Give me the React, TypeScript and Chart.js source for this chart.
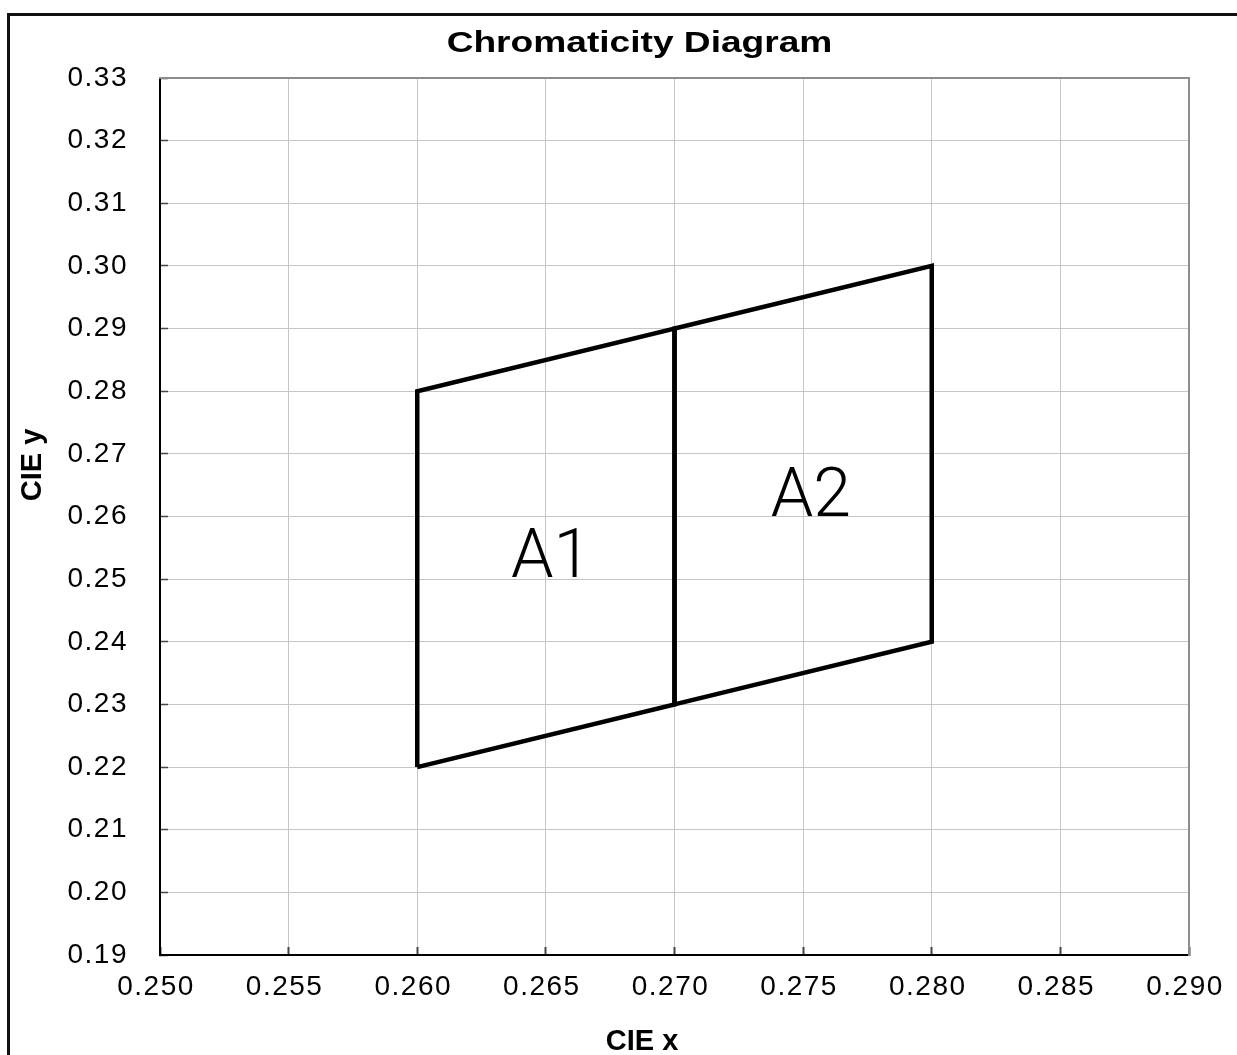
import React, { useEffect, useRef } from 'react';
import { Chart, registerables } from 'chart.js';

Chart.register(...registerables);

// ---- data ----
const xTickValues = [0.25, 0.255, 0.26, 0.265, 0.27, 0.275, 0.28, 0.285, 0.29];
const xTickLabels = ['0.250', '0.255', '0.260', '0.265', '0.270', '0.275', '0.280', '0.285', '0.290'];
const yTickValues = [0.19, 0.2, 0.21, 0.22, 0.23, 0.24, 0.25, 0.26, 0.27, 0.28, 0.29, 0.3, 0.31, 0.32, 0.33];
const yTickLabels = ['0.19', '0.20', '0.21', '0.22', '0.23', '0.24', '0.25', '0.26', '0.27', '0.28', '0.29', '0.30', '0.31', '0.32', '0.33'];

const a1X = [0.26, 0.26, 0.27, 0.27, 0.26];
const a1Y = [0.22, 0.28, 0.29, 0.23, 0.22];
const a2X = [0.27, 0.27, 0.28, 0.28, 0.27];
const a2Y = [0.23, 0.29, 0.3, 0.24, 0.23];

const regionLabels = ['A1', 'A2'];
const regionLabelX = [0.2652, 0.2753];
const regionLabelY = [0.2503, 0.2601];

const chartTitle = 'Chromaticity Diagram';
const xTitle = 'CIE x';
const yTitle = 'CIE y';

const FONT = "'Liberation Sans', Arial, Helvetica, sans-serif";

const toPoints = (xs: number[], ys: number[]) => xs.map((x, i) => ({ x, y: ys[i] }));

const decoPlugin = {
  id: 'deco',
  beforeDraw(chart: any) {
    chart.ctx.letterSpacing = '1.5px';
  },
  afterDatasetsDraw(chart: any) {
    const ctx = chart.ctx;
    const xs = chart.scales.x;
    const ys = chart.scales.y;
    ctx.save();
    ctx.letterSpacing = '0px';
    ctx.fillStyle = '#000';
    ctx.font = "300 68px Roboto, 'Liberation Sans', sans-serif";
    ctx.textAlign = 'center';
    ctx.textBaseline = 'alphabetic';
    regionLabels.forEach((t, i) => {
      ctx.fillText(t, xs.getPixelForValue(regionLabelX[i]), ys.getPixelForValue(regionLabelY[i]));
    });
    ctx.restore();
  },
  afterDraw(chart: any) {
    const ctx = chart.ctx;
    ctx.save();
    ctx.letterSpacing = '0px';
    ctx.fillStyle = '#000';
    ctx.font = `bold 29px ${FONT}`;
    ctx.textAlign = 'center';
    ctx.textBaseline = 'middle';
    ctx.fillText(xTitle, 642, 1042);
    ctx.translate(33, 465);
    ctx.rotate(-Math.PI / 2);
    ctx.fillText(yTitle, 0, 0);
    ctx.restore();
    ctx.letterSpacing = '0px';
  },
};

export default function App() {
  const ref = useRef<HTMLCanvasElement>(null);

  useEffect(() => {
    if (!ref.current) return;
    const chart = new Chart(ref.current, {
      type: 'scatter',
      data: {
        datasets: [
          {
            label: 'A1',
            data: toPoints(a1X, a1Y),
            showLine: true,
            borderColor: '#000',
            borderWidth: 4.5,
            pointRadius: 0,
            fill: false,
            borderJoinStyle: 'miter',
            xAxisID: 'x',
            yAxisID: 'y',
          },
          {
            label: 'A2',
            data: toPoints(a2X, a2Y),
            showLine: true,
            borderColor: '#000',
            borderWidth: 4.5,
            pointRadius: 0,
            fill: false,
            borderJoinStyle: 'miter',
            xAxisID: 'x',
            yAxisID: 'y',
          },
        ],
      },
      options: {
        responsive: false,
        animation: false,
        devicePixelRatio: 1,
        layout: { padding: { left: 42, right: 0, top: 0, bottom: 0 } },
        plugins: {
          legend: { display: false },
          tooltip: { enabled: false },
          title: {
            display: true,
            text: chartTitle,
            color: '#000',
            font: { family: FONT, size: 29, weight: 'bold', lineHeight: 1.2 },
            padding: { top: 26.6, bottom: 16.6 },
          },
        },
        scales: {
          x: {
            type: 'linear',
            position: 'bottom',
            min: xTickValues[0],
            max: xTickValues[xTickValues.length - 1],
            afterBuildTicks: (s: any) => {
              s.ticks = xTickValues.map((v) => ({ value: v }));
            },
            afterFit: (s: any) => {
              s.height = 100;
              s.paddingLeft = 0;
              s.paddingRight = 0;
            },
            ticks: {
              autoSkip: false,
              maxRotation: 0,
              color: '#000',
              font: { family: FONT, size: 28 },
              padding: 23,
              labelOffset: -4,
              callback: (_v: any, i: number) => xTickLabels[i],
            },
            grid: { color: '#c6c6c6', lineWidth: 1, tickLength: -8, tickColor: '#444', tickWidth: 2, z: -1 },
            border: { color: '#000', width: 2 },
          },
          y: {
            type: 'linear',
            position: 'left',
            min: yTickValues[0],
            max: yTickValues[yTickValues.length - 1],
            afterBuildTicks: (s: any) => {
              s.ticks = yTickValues.map((v) => ({ value: v }));
            },
            afterFit: (s: any) => {
              s.width = 118;
              s.paddingTop = 0;
              s.paddingBottom = 0;
            },
            ticks: {
              autoSkip: false,
              color: '#000',
              font: { family: FONT, size: 28 },
              padding: 40,
              callback: (_v: any, i: number) => yTickLabels[i],
            },
            grid: { color: '#c6c6c6', lineWidth: 1, tickLength: -8, tickColor: '#444', tickWidth: 1.5, z: -1 },
            border: { color: '#000', width: 2 },
          },
          x2: {
            type: 'linear',
            position: 'top',
            min: xTickValues[0],
            max: xTickValues[xTickValues.length - 1],
            ticks: { display: false },
            grid: { drawOnChartArea: false, drawTicks: false },
            border: { color: '#8c8c8c', width: 2 },
            afterFit: (s: any) => {
              s.height = 0;
              s.paddingLeft = 0;
              s.paddingRight = 0;
            },
          },
          y2: {
            type: 'linear',
            position: 'right',
            min: yTickValues[0],
            max: yTickValues[yTickValues.length - 1],
            ticks: { display: false },
            grid: { drawOnChartArea: false, drawTicks: false },
            border: { color: '#8c8c8c', width: 2 },
            afterFit: (s: any) => {
              s.width = 48;
              s.paddingTop = 0;
              s.paddingBottom = 0;
            },
          },
        },
      } as any,
      plugins: [decoPlugin],
    });

    const tb = (chart as any).titleBlock;
    if (tb) {
      const orig = tb.draw.bind(tb);
      tb.draw = (...args: any[]) => {
        const c: any = chart.ctx;
        c.save();
        c.letterSpacing = '0px';
        const cx = (tb.left + tb.right) / 2;
        c.translate(cx, 0);
        c.scale(1.28, 1);
        c.translate(-cx, 0);
        orig(...args);
        c.restore();
      };
      chart.draw();
    }

    return () => chart.destroy();
  }, []);

  return (
    <div
      style={{
        position: 'fixed',
        left: 0,
        top: 0,
        width: 1237,
        height: 1055,
        overflow: 'hidden',
        background: '#fff',
      }}
    >
      <canvas
        ref={ref}
        width={1237}
        height={1055}
        style={{ position: 'absolute', left: 0, top: 0, width: 1237, height: 1055 }}
      />
      <div
        style={{
          position: 'absolute',
          left: 7,
          top: 13,
          width: 1400,
          height: 1200,
          borderLeft: '3px solid #111',
          borderTop: '3px solid #111',
          pointerEvents: 'none',
        }}
      />
    </div>
  );
}
